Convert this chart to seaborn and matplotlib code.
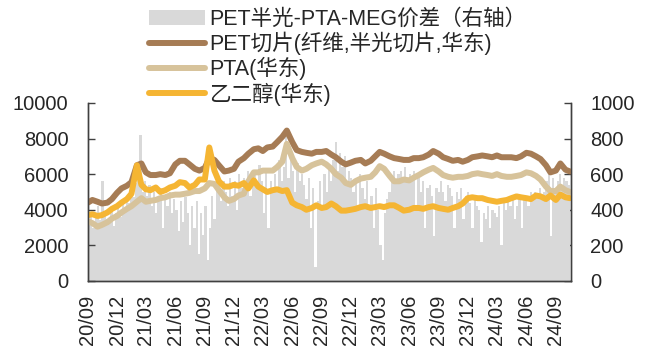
import pandas as pd
import matplotlib.pyplot as plt
import matplotlib.dates as mdates
from matplotlib.patches import Patch
from matplotlib.lines import Line2D
import seaborn as sns

# semi-monthly prices (yuan/t), 2020-09-01 .. 2024-10-15
pet_chip = [4400, 4550, 4450, 4350, 4400, 4600, 4950, 5200, 5350, 5550,
            6500, 6600, 6100, 5950, 5950, 6000, 5950, 6050, 6550, 6750,
            6750, 6550, 6300, 6200, 6350, 6900, 6800, 6500, 6150, 6200,
            6300, 6700, 6900, 7150, 7400, 7450, 7300, 7500, 7550, 7800,
            8100, 8450, 7800, 7350, 7250, 7200, 7150, 7250, 7250, 7300,
            7100, 6950, 6700, 6550, 6650, 6750, 6800, 6600, 6750, 7000,
            7250, 7150, 7000, 6900, 6850, 6800, 6800, 6900, 6900, 6950,
            7100, 7300, 7150, 6950, 6850, 6750, 6800, 6700, 6800, 6950,
            7000, 7050, 7000, 6950, 7050, 6950, 6950, 6950, 6900, 7000,
            7200, 7150, 7000, 6850, 6500, 6100, 6200, 6600, 6250, 6150]
pta = [3350, 3250, 3050, 3150, 3300, 3500, 3650, 3850, 4050, 4200,
       4450, 4650, 4450, 4500, 4550, 4650, 4700, 4800, 4850, 4850,
       4900, 4950, 5050, 5050, 5200, 5500, 5450, 5100, 4700, 4500,
       4600, 4800, 4900, 5600, 6100, 6100, 6200, 6200, 6200, 6400,
       6700, 7700, 6900, 6400, 6200, 6300, 6500, 6600, 6700, 6550,
       6300, 6000, 5800, 5500, 5400, 5600, 5750, 5800, 5850, 6100,
       6450, 6300, 5900, 5600, 5600, 5700, 5650, 5800, 5950, 6100,
       6250, 6350, 6150, 5950, 5850, 5800, 5850, 5850, 5900, 6000,
       6050, 6000, 5950, 5900, 6000, 5900, 5850, 5850, 5900, 5950,
       6100, 6050, 5900, 5700, 5300, 5050, 5050, 5300, 5100, 5000]
meg = [3700, 3750, 3650, 3700, 3850, 4050, 4200, 4400, 4600, 4900,
       6500, 5400, 5150, 5100, 5250, 5000, 5100, 5250, 5350, 5550,
       5500, 5250, 5400, 5700, 5700, 7500, 6200, 5600, 5300, 5300,
       5400, 5350, 5500, 5200, 5650, 5300, 5150, 5000, 5100, 5150,
       5050, 5100, 4400, 4250, 4150, 4000, 4100, 4250, 4100, 4150,
       4350, 4200, 3950, 3950, 4000, 4050, 4150, 4200, 4100, 4150,
       4200, 4150, 4250, 4250, 4100, 3950, 4000, 4100, 4100, 4050,
       4150, 4200, 4100, 4050, 4000, 4100, 4200, 4350, 4650, 4700,
       4650, 4650, 4550, 4500, 4450, 4500, 4550, 4650, 4750, 4700,
       4650, 4600, 4800, 4750, 4600, 4800, 4550, 4850, 4700, 4650]

# weekly PET semi-dull chip - PTA - MEG spread (right axis)
spread = [330, 380, 300, 360,
          420, 340, 560, 380, 350,
          330, 400, 310, 380,
          420, 360, 450, 390, 480,
          440, 520, 470, 550,
          600, 820, 500, 560,
          480, 540, 420, 500, 380,
          450, 520, 300, 470,
          420, 500, 380, 460,
          400, 280, 450, 330, 470,
          380, 200, 420, 300,
          450, 150, 380, 260,
          420, 120, 300, 480, 350,
          520, 580, 450, 560,
          500, 420, 580, 480,
          560, 400, 600, 520, 580,
          550, 620, 480, 580,
          600, 520, 650, 560,
          380, 620, 300, 560, 520,
          600, 520, 680, 560,
          640, 820, 580, 700,
          620, 500, 660, 560, 600,
          540, 460, 580, 300,
          520, 80, 450, 560, 420,
          600, 500, 650, 560,
          680, 780, 620, 720,
          640, 700, 560, 620, 580,
          500, 560, 420, 600,
          520, 460, 560, 400,
          480, 300, 520, 400,
          200, 120, 380, 460, 500,
          580, 620, 560, 600,
          620, 560, 640, 580, 600,
          560, 620, 400, 580,
          500, 560, 300, 520,
          540, 480, 250, 520, 500,
          560, 500, 450, 540,
          520, 480, 300, 500,
          460, 520, 350, 480, 500,
          440, 300, 480, 420,
          400, 220, 380, 350,
          420, 300, 400, 380,
          360, 420, 200, 440, 400,
          450, 420, 480, 350,
          420, 480, 300, 460,
          480, 420, 500, 460, 500,
          480, 520, 460, 500,
          560, 600, 250, 580, 520,
          560, 600, 520, 580,
          560, 540]

labels = ['PET半光-PTA-MEG价差（右轴）', 'PET切片(纤维,半光切片,华东)',
          'PTA(华东)', '乙二醇(华东)']
colors = ['#D9D9D9', '#A67C55', '#D7C39B', '#F5B533']

line_dates = pd.date_range('2020-09-01', periods=len(pet_chip), freq='SMS')
week_dates = pd.date_range('2020-09-01', periods=len(spread), freq='7D')
df = pd.DataFrame({'date': line_dates, 'pet': pet_chip, 'pta': pta, 'meg': meg})

sns.set_style('white')
plt.rcParams['font.family'] = ['Liberation Sans', 'Noto Sans CJK SC']
plt.rcParams['font.size'] = 14.5

fig = plt.figure(figsize=(6.51, 3.49), dpi=100)
ax = fig.add_axes([0.135, 0.195, 0.742, 0.51])
ax2 = ax.twinx()

ax2.bar(week_dates, spread, width=7, color=colors[0], linewidth=0, align='edge')
ax2.set_ylim(0, 1000)
ax2.set_yticks(range(0, 1001, 200))

ax.set_zorder(ax2.get_zorder() + 1)
ax.patch.set_visible(False)
for col, c in zip(['pet', 'pta', 'meg'], colors[1:]):
    sns.lineplot(data=df, x='date', y=col, ax=ax, color=c, linewidth=4.3,
                 solid_capstyle='round', solid_joinstyle='round')

ax.set_ylim(0, 10000)
ax.set_yticks(range(0, 10001, 2000))
ax.set_xlim(pd.Timestamp('2020-09-01'), pd.Timestamp('2024-10-18'))
ax.set_xticks(pd.date_range('2020-09-01', '2024-09-01', freq='3MS'))
ax.xaxis.set_major_formatter(mdates.DateFormatter('%y/%m'))
ax.set_xlabel('')
ax.set_ylabel('')
for t in ax.get_xticklabels():
    t.set_rotation(90)

for a in (ax, ax2):
    a.spines['top'].set_visible(False)
    for s in ('left', 'right', 'bottom'):
        a.spines[s].set_color('#404040')
        a.spines[s].set_linewidth(1)
ax.tick_params(axis='y', direction='in', length=5, width=1, color='#404040', pad=14)
ax.tick_params(axis='x', direction='in', length=5, width=1, color='#404040', pad=10)
ax2.tick_params(axis='y', direction='in', length=5, width=1, color='#404040', pad=14)

handles = [Patch(facecolor=colors[0], edgecolor='none')] + [
    Line2D([], [], color=c, linewidth=4.3, solid_capstyle='round') for c in colors[1:]]
fig.legend(handles, labels, loc='upper left', bbox_to_anchor=(0.215, 1.0),
           frameon=False, handlelength=2.6, handleheight=0.7, handletextpad=0.2,
           labelspacing=0.1, borderaxespad=0, fontsize=15.5)

fig.savefig('out.png', dpi=100)
